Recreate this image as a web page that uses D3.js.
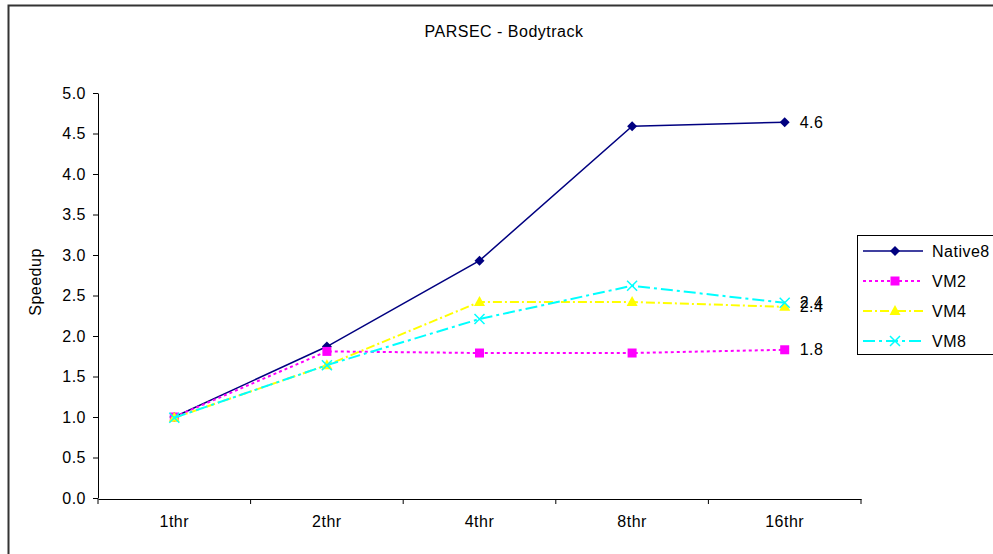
<!DOCTYPE html>
<html><head><meta charset="utf-8">
<script src="https://cdn.jsdelivr.net/npm/d3@7"></script>
<style>
html,body{margin:0;padding:0;background:#fff;}
svg text{font-family:"Liberation Sans",Arial,sans-serif;fill:#000;letter-spacing:0.5px;}
</style></head>
<body><svg id="c" width="993" height="554"></svg>
<script>
const title = "PARSEC - Bodytrack";
const yLabel = "Speedup";
const categories = ["1thr","2thr","4thr","8thr","16thr"];
const yTicks = [0,0.5,1,1.5,2,2.5,3,3.5,4,4.5,5];
const seriesNames = ["Native8","VM2","VM4","VM8"];
const native8 = [1.0, 1.87, 2.93, 4.59, 4.64];
const vm2 = [1.0, 1.81, 1.79, 1.79, 1.83];
const vm4 = [0.99, 1.64, 2.42, 2.42, 2.36];
const vm8 = [0.99, 1.64, 2.21, 2.62, 2.41];
const seriesValues = [native8, vm2, vm4, vm8];
const colors = ["#000080","#FF00FF","#FFFF00","#00FFFF"];
const dashes = [null, "3,3", "9,3,2,3", "12,4,3,4"];
const markers = ["diamond","square","triangle","x"];
const FS = 16;

const svg = d3.select("#c");
svg.append("rect").attr("x",8.5).attr("y",5.5).attr("width",1000).attr("height",600)
  .attr("fill","none").attr("stroke","#333").attr("stroke-width",2);

const L = 98, R = 861, T = 93, B = 499;
const x = d3.scaleBand().domain(categories).range([L,R]);
const y = d3.scaleLinear().domain([0,5]).range([B-1,T]);

svg.append("text").attr("x",504).attr("y",37).attr("text-anchor","middle")
  .attr("font-size",FS).text(title);

const yAxis = svg.append("g").attr("transform",`translate(${L},0)`)
  .call(d3.axisLeft(y).tickValues(yTicks).tickFormat(d3.format(".1f")).tickSize(5).tickSizeOuter(0));
yAxis.select(".domain").attr("stroke","#000");
yAxis.selectAll("text").attr("font-size",FS).attr("dx","-4").attr("font-family",null);

const xAxis = svg.append("g").attr("transform",`translate(0,${B})`)
  .call(d3.axisBottom(x).tickSize(0).tickSizeOuter(0));
xAxis.select(".domain").attr("stroke","#000");
xAxis.selectAll("text").attr("font-size",FS).attr("y",17).attr("dy","0.71em").attr("font-family",null);
const bounds = categories.map(c=>x(c)).concat([R]);
xAxis.selectAll("line.bt").data(bounds).enter().append("line").attr("class","bt")
  .attr("x1",d=>d).attr("x2",d=>d).attr("y1",0).attr("y2",5).attr("stroke","#000");

svg.append("text").attr("transform","translate(41,282) rotate(-90)")
  .attr("text-anchor","middle").attr("font-size",FS).text(yLabel);

const cx = c => x(c) + x.bandwidth()/2;

function drawMarker(g, type, px, py, color){
  if(type==="diamond"){
    g.append("path").attr("d",`M${px},${py-5}L${px+5},${py}L${px},${py+5}L${px-5},${py}Z`).attr("fill",color);
  } else if(type==="square"){
    g.append("rect").attr("x",px-4.5).attr("y",py-4.5).attr("width",9).attr("height",9).attr("fill",color);
  } else if(type==="triangle"){
    g.append("path").attr("d",`M${px},${py-6}L${px+5.5},${py+4}L${px-5.5},${py+4}Z`).attr("fill",color);
  } else {
    g.append("path").attr("d",`M${px-5},${py-5}L${px+5},${py+5}M${px-5},${py+5}L${px+5},${py-5}`)
      .attr("stroke",color).attr("stroke-width",1.5);
  }
}

const line = d3.line().x((d,i)=>cx(categories[i])).y(d=>y(d));
seriesValues.forEach((vals,si)=>{
  const g = svg.append("g");
  g.append("path").datum(vals).attr("d",line).attr("fill","none")
    .attr("stroke",colors[si]).attr("stroke-width",si===0?1.5:2)
    .attr("stroke-dasharray",dashes[si]);
  vals.forEach((v,i)=>drawMarker(g, markers[si], cx(categories[i]), y(v), colors[si]));
});
seriesValues.forEach((vals,si)=>{
  const last = vals[vals.length-1];
  svg.append("text").attr("x",cx(categories[categories.length-1])+15).attr("y",y(last)+5.5)
    .attr("font-size",FS).text(d3.format(".1f")(last));
});

const lg = svg.append("g");
lg.append("rect").attr("x",857.5).attr("y",235.5).attr("width",150).attr("height",119)
  .attr("fill","#fff").attr("stroke","#000");
seriesNames.forEach((n,i)=>{
  const ly = 251 + i*30;
  lg.append("line").attr("x1",863).attr("x2",923).attr("y1",ly).attr("y2",ly)
    .attr("stroke",colors[i]).attr("stroke-width",i===0?1.5:2).attr("stroke-dasharray",dashes[i]);
  drawMarker(lg, markers[i], 895, ly, colors[i]);
  lg.append("text").attr("x",932).attr("y",ly+5.5).attr("font-size",FS).text(n);
});
</script></body></html>
